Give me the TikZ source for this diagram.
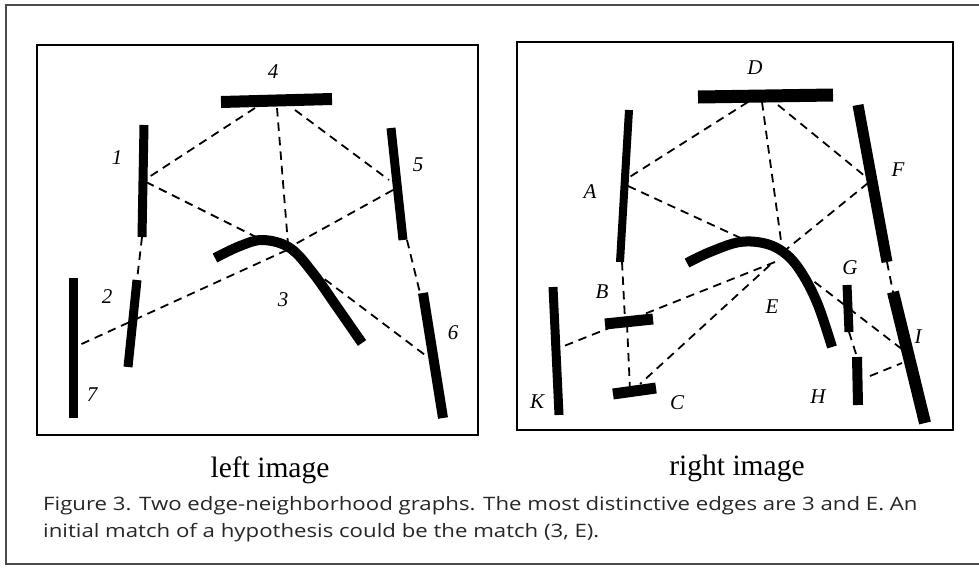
\documentclass[tikz,border=0pt]{standalone}
\usepackage{fontspec}
\setmainfont{Liberation Serif}
\newfontfamily\capfont{Open Sans}
\begin{document}
\begin{tikzpicture}[x=1pt,y=-1pt,
  bar/.style={line width=#1, line cap=butt},
  bar/.default=9pt,
  link/.style={line width=1.8pt, dash pattern=on 8.5pt off 6pt},
  panel/.style={line width=2.2pt},
  lbl/.style={font=\fontsize{21}{21}\selectfont\itshape, inner sep=0pt},
  title/.style={font=\fontsize{29.5}{30}\selectfont, inner sep=0pt, anchor=base},
  captext/.style={font=\capfont\fontsize{18.5}{18.5}\selectfont, inner sep=0pt, anchor=base west, text=black!85}
]
\useasboundingbox (0,0) rectangle (979,568);
% outer border
\draw[line width=1.5pt, black!70] (979,5) -- (6,5) -- (6,564) -- (979,564);
% panels
\draw[panel] (37,45) rectangle (478,435);
\draw[panel] (517,42) rectangle (953,430);

% ---------- left image ----------
\coordinate (l4a) at (255,108); \coordinate (l4b) at (277,108); \coordinate (l4c) at (295,110);
\coordinate (l1a) at (146,179); \coordinate (l1b) at (146,182); \coordinate (l1c) at (142,237);
\coordinate (l2a) at (137,280);
\coordinate (l3a) at (288,244); \coordinate (l3b) at (262,240); \coordinate (l3c) at (290,247);
\coordinate (l3d) at (287,250); \coordinate (l3e) at (290,253);
\coordinate (l5a) at (389,180); \coordinate (l5b) at (393,190); \coordinate (l5c) at (407,240);
\coordinate (l6a) at (425,355); \coordinate (l6b) at (420,293);
\coordinate (l7a) at (75,347);

\draw[link] (l4a) -- (l1a);
\draw[link] (l4b) -- (l3a);
\draw[link] (l4c) -- (l5a);
\draw[link] (l1b) -- (l3b);
\draw[link] (l5b) -- (l3c);
\draw[link] (l1c) -- (l2a);
\draw[link] (l3d) -- (l7a);
\draw[link] (l3e) -- (l6a);
\draw[link] (l5c) -- (l6b);

\draw[bar=12pt] (221,102) -- (332,99);
\draw[bar] (144,125) -- (142,237);
\draw[bar] (137,280) -- (128,367);
\draw[bar] (73,278) -- (73,418);
\draw[bar] (391,128) -- (403,240);
\draw[bar=10pt] (423,293) -- (443,418);
\draw[bar=10pt] plot[smooth, tension=0.6] coordinates {(215,258) (240,246) (263,240) (290,248) (313,273) (337,307) (362,343)};

\node[lbl] (n4) at (273,72) {4};
\node[lbl] (n1) at (117,158) {1};
\node[lbl] (n2) at (107,297) {2};
\node[lbl] (n3) at (283,300) {3};
\node[lbl] (n5) at (418,165) {5};
\node[lbl] (n6) at (453,333) {6};
\node[lbl] (n7) at (92,395) {7};

% ---------- right image ----------
\coordinate (rDa) at (748,102); \coordinate (rDb) at (762,102); \coordinate (rDc) at (778,105);
\coordinate (rAa) at (628,178); \coordinate (rAb) at (628,186); \coordinate (rAc) at (622,262);
\coordinate (rEa) at (782,248); \coordinate (rEb) at (745,240); \coordinate (rEc) at (783,252);
\coordinate (rEd) at (775,262); \coordinate (rEe) at (770,265); \coordinate (rEf) at (803,273);
\coordinate (rFa) at (866,177); \coordinate (rFb) at (868,183); \coordinate (rFc) at (887,262);
\coordinate (rBa) at (625,320); \coordinate (rBb) at (627,324);
\coordinate (rCa) at (630,390); \coordinate (rCb) at (640,384);
\coordinate (rKa) at (559,348);
\coordinate (rIa) at (903,350); \coordinate (rIb) at (893,292); \coordinate (rIc) at (902,363);
\coordinate (rGa) at (849,332);
\coordinate (rHa) at (870,376); \coordinate (rHb) at (857,357);

\draw[link] (rDa) -- (rAa);
\draw[link] (rDb) -- (rEa);
\draw[link] (rDc) -- (rFa);
\draw[link] (rAb) -- (rEb);
\draw[link] (rFb) -- (rEc);
\draw[link] (rAc) -- (rBa);
\draw[link] (rBb) -- (rCa);
\draw[link] (rEd) -- (rKa);
\draw[link] (rEe) -- (rCb);
\draw[link] (rEf) -- (rIa);
\draw[link] (rFc) -- (rIb);
\draw[link] (rHa) -- (rIc);
\draw[link] (rGa) -- (rHb);

\draw[bar=13pt] (698,97) -- (833,95);
\draw[bar=8pt] (629,110) -- (620,262);
\draw[bar=11pt] (605,324) -- (653,319);
\draw[bar=11pt] (613,394) -- (656,388);
\draw[bar] (553,287) -- (559,415);
\draw[bar=11pt] (858,105) -- (887,262);
\draw[bar=12pt] (893,292) -- (925,423);
\draw[bar] (847,285) -- (849,332);
\draw[bar=10pt] (857,357) -- (858,405);
\draw[bar=10pt] plot[smooth, tension=0.6] coordinates {(687,263) (710,252) (740,242) (767,244) (787,255) (803,275) (818,305) (832,347)};

\node[lbl] (nD) at (755,68) {D};
\node[lbl] (nA) at (590,192) {A};
\node[lbl] (nB) at (602,292) {B};
\node[lbl] (nC) at (677,403) {C};
\node[lbl] (nE) at (772,307) {E};
\node[lbl] (nF) at (898,170) {F};
\node[lbl] (nG) at (850,268) {G};
\node[lbl] (nH) at (818,397) {H};
\node[lbl] (nI) at (918,337) {I};
\node[lbl] (nK) at (537,402) {K};

% ---------- titles and caption ----------
\node[title] (tl) at (270,477) {left image};
\node[title] (tr) at (737,475) {right image};
\node[captext] (c1) at (43,510) {\scalebox{1.2}[1]{Figure 3. Two edge-neighborhood graphs. The most distinctive edges are 3 and E. An}};
\node[captext] (c2) at (43,537) {\scalebox{1.2}[1]{initial match of a hypothesis could be the match (3, E).}};
\end{tikzpicture}
\end{document}
